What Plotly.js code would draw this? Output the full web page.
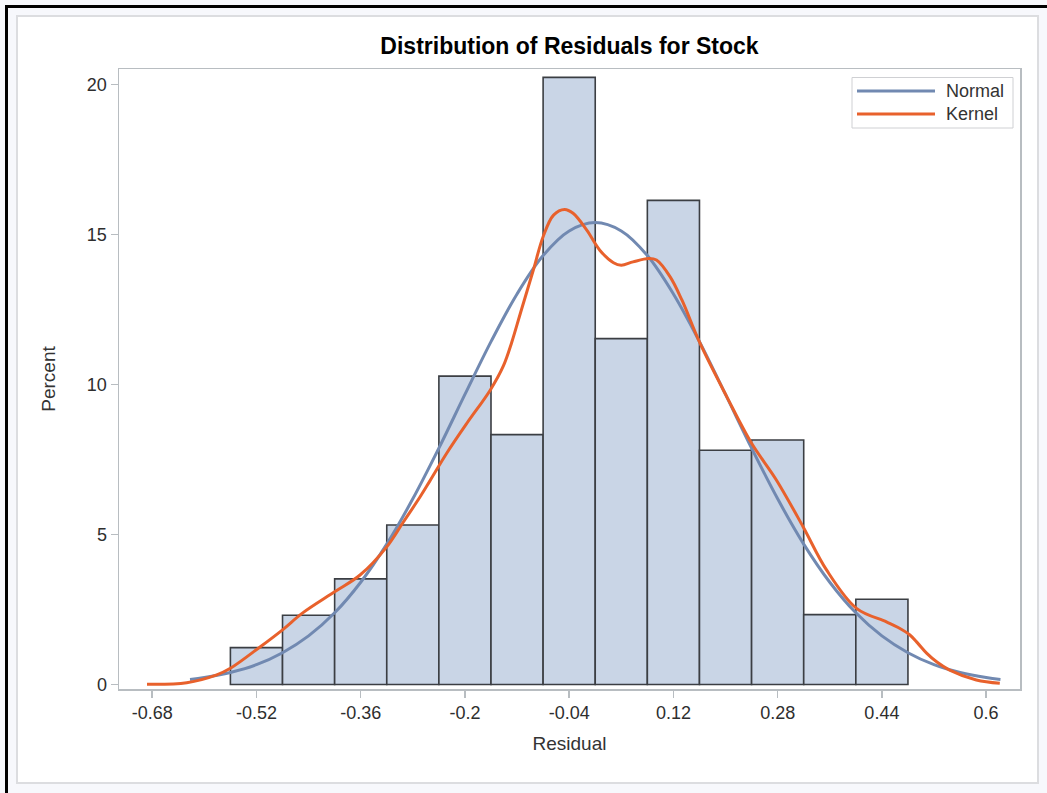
<!DOCTYPE html>
<html>
<head>
<meta charset="utf-8">
<script src="https://cdn.plot.ly/plotly-3.0.1.min.js"></script>
<style>
  html, body { margin: 0; padding: 0; background: #ffffff; }
  #chart { width: 1047px; height: 793px; }
</style>
</head>
<body>
<div id="chart"></div>
<script>
// Histogram of residuals (percent per bin, bin width 0.08)
const binCenters = [-0.52, -0.44, -0.36, -0.28, -0.20, -0.12, -0.04, 0.04, 0.12, 0.20, 0.28, 0.36, 0.44];
const binPercent = [1.23, 2.31, 3.52, 5.32, 10.28, 8.33, 20.24, 11.53, 16.14, 7.81, 8.15, 2.33, 2.84];
const binWidth = 0.08;

// Fitted normal density curve (scaled to percent per bin)
const normalX = [-0.622, -0.60, -0.56, -0.52, -0.48, -0.44, -0.40, -0.36, -0.32, -0.28, -0.24, -0.20, -0.16,
                 -0.12, -0.08, -0.04, 0.00, 0.04, 0.08, 0.12, 0.16, 0.20, 0.24, 0.28, 0.32, 0.36, 0.40,
                 0.44, 0.48, 0.52, 0.56, 0.60, 0.622];
const normalY = [0.17, 0.23, 0.40, 0.66, 1.06, 1.62, 2.39, 3.41, 4.68, 6.19, 7.88, 9.67, 11.43,
                 13.02, 14.30, 15.12, 15.40, 15.12, 14.30, 13.02, 11.43, 9.67, 7.88, 6.19, 4.68, 3.41, 2.39,
                 1.62, 1.06, 0.66, 0.40, 0.23, 0.17];

// Kernel density estimate curve
const kernelX = [-0.688, -0.627, -0.581, -0.560, -0.514, -0.479, -0.450, -0.400, -0.361, -0.320, -0.295,
                 -0.269, -0.254, -0.228, -0.197, -0.161, -0.141, -0.128, -0.115, -0.095, -0.080, -0.064,
                 -0.047, -0.034, -0.013, 0.007, 0.028, 0.040, 0.058, 0.082, 0.094, 0.115, 0.133, 0.161,
                 0.202, 0.240, 0.278, 0.319, 0.355, 0.401, 0.447, 0.465, 0.483, 0.495, 0.509, 0.525,
                 0.544, 0.585, 0.621];
const kernelY = [0.01, 0.06, 0.32, 0.54, 1.26, 1.84, 2.37, 3.09, 3.65, 4.59, 5.40,
                 6.25, 6.78, 7.71, 8.71, 9.82, 10.62, 11.42, 12.37, 13.82, 14.93, 15.65,
                 15.84, 15.71, 15.15, 14.48, 14.06, 13.98, 14.09, 14.20, 14.15, 13.59, 12.82, 11.37,
                 9.59, 8.04, 6.82, 5.26, 3.82, 2.54, 2.09, 1.90, 1.65, 1.38, 1.04, 0.74,
                 0.48, 0.15, 0.04];

// Axis ticks
const xTickVals = [-0.68, -0.52, -0.36, -0.2, -0.04, 0.12, 0.28, 0.44, 0.6];
const xTickText = ['-0.68', '-0.52', '-0.36', '-0.2', '-0.04', '0.12', '0.28', '0.44', '0.6'];
const yTickVals = [0, 5, 10, 15, 20];

const seriesNames = ['Normal', 'Kernel'];
const seriesColors = ['#7189b1', '#e8612c'];

const FONT = '"Liberation Sans", Arial, Helvetica, sans-serif';
const W = 1047, H = 793;
const M = { l: 119, r: 27, t: 69, b: 104 };
const plotW = W - M.l - M.r, plotH = H - M.t - M.b;
// pixel -> paper helpers for frame and legend decorations
const px = v => (v - M.l) / plotW;
const py = v => (H - M.b - v) / plotH;

const traces = [
  {
    type: 'bar',
    x: binCenters,
    y: binPercent,
    width: binCenters.map(() => binWidth),
    marker: { color: '#c9d5e6', line: { color: '#3b3e43', width: 1.6 } },
    showlegend: false,
    hoverinfo: 'x+y'
  },
  {
    type: 'scatter', mode: 'lines', name: seriesNames[0],
    x: normalX, y: normalY,
    line: { color: seriesColors[0], width: 3, shape: 'spline', smoothing: 1 },
    showlegend: false
  },
  {
    type: 'scatter', mode: 'lines', name: seriesNames[1],
    x: kernelX, y: kernelY,
    line: { color: seriesColors[1], width: 3, shape: 'spline', smoothing: 1 },
    showlegend: false
  }
];

// Frame around the graph and the legend box
const shapes = [
  { type: 'rect', xref: 'paper', yref: 'paper', layer: 'below',
    x0: px(0), x1: px(W), y0: py(H), y1: py(0),
    fillcolor: '#f7f8fc', line: { width: 0 } },
  { type: 'rect', xref: 'paper', yref: 'paper', layer: 'below',
    x0: px(17), x1: px(1038), y0: py(783), y1: py(16),
    fillcolor: '#ffffff', line: { color: '#dcdde0', width: 2 } },
  { type: 'line', xref: 'paper', yref: 'paper',
    x0: px(6.5), x1: px(6.5), y0: py(H), y1: py(5),
    line: { color: '#000000', width: 3 } },
  { type: 'line', xref: 'paper', yref: 'paper',
    x0: px(5), x1: px(W), y0: py(6.5), y1: py(6.5),
    line: { color: '#000000', width: 3 } },
  // legend
  { type: 'rect', xref: 'paper', yref: 'paper',
    x0: px(852), x1: px(1013), y0: py(128), y1: py(77.5),
    fillcolor: '#ffffff', line: { color: '#cfd0d3', width: 1 } },
  { type: 'line', xref: 'paper', yref: 'paper',
    x0: px(857), x1: px(935), y0: py(91), y1: py(91),
    line: { color: seriesColors[0], width: 3 } },
  { type: 'line', xref: 'paper', yref: 'paper',
    x0: px(857), x1: px(935), y0: py(114), y1: py(114),
    line: { color: seriesColors[1], width: 3 } }
];

const annotations = [
  { xref: 'paper', yref: 'paper', x: px(944), y: py(90.5), xanchor: 'left', yanchor: 'middle',
    text: seriesNames[0], showarrow: false, font: { family: FONT, size: 18, color: '#333333' } },
  { xref: 'paper', yref: 'paper', x: px(944), y: py(113.5), xanchor: 'left', yanchor: 'middle',
    text: seriesNames[1], showarrow: false, font: { family: FONT, size: 18, color: '#333333' } }
];

const axisCommon = {
  showline: true, linecolor: '#b8bdc1', linewidth: 1.5, mirror: true,
  ticks: 'outside', ticklen: 7, tickwidth: 1.5, tickcolor: '#b8bdc1',
  showgrid: false, zeroline: false,
  tickfont: { family: FONT, size: 18, color: '#2e2e2e' }
};

const layout = {
  width: W, height: H,
  margin: M,
  paper_bgcolor: '#ffffff',
  plot_bgcolor: '#ffffff',
  font: { family: FONT, color: '#333333' },
  title: {
    text: '<b>Distribution of Residuals for Stock</b>',
    font: { family: FONT, size: 23, color: '#000000' },
    x: 0.5, xref: 'paper', xanchor: 'center',
    y: 1 - 46 / H, yref: 'container', yanchor: 'middle'
  },
  xaxis: Object.assign({}, axisCommon, {
    range: [-0.731, 0.652],
    tickmode: 'array', tickvals: xTickVals, ticktext: xTickText,
    title: { text: 'Residual', font: { family: FONT, size: 19, color: '#333333' }, standoff: 14 }
  }),
  yaxis: Object.assign({}, axisCommon, {
    range: [-0.15, 20.52],
    tickmode: 'array', tickvals: yTickVals,
    title: { text: 'Percent', font: { family: FONT, size: 19, color: '#333333' }, standoff: 26 }
  }),
  bargap: 0,
  shapes: shapes,
  annotations: annotations,
  showlegend: false
};

Plotly.newPlot('chart', traces, layout, { displayModeBar: false, staticPlot: true });
</script>
</body>
</html>
